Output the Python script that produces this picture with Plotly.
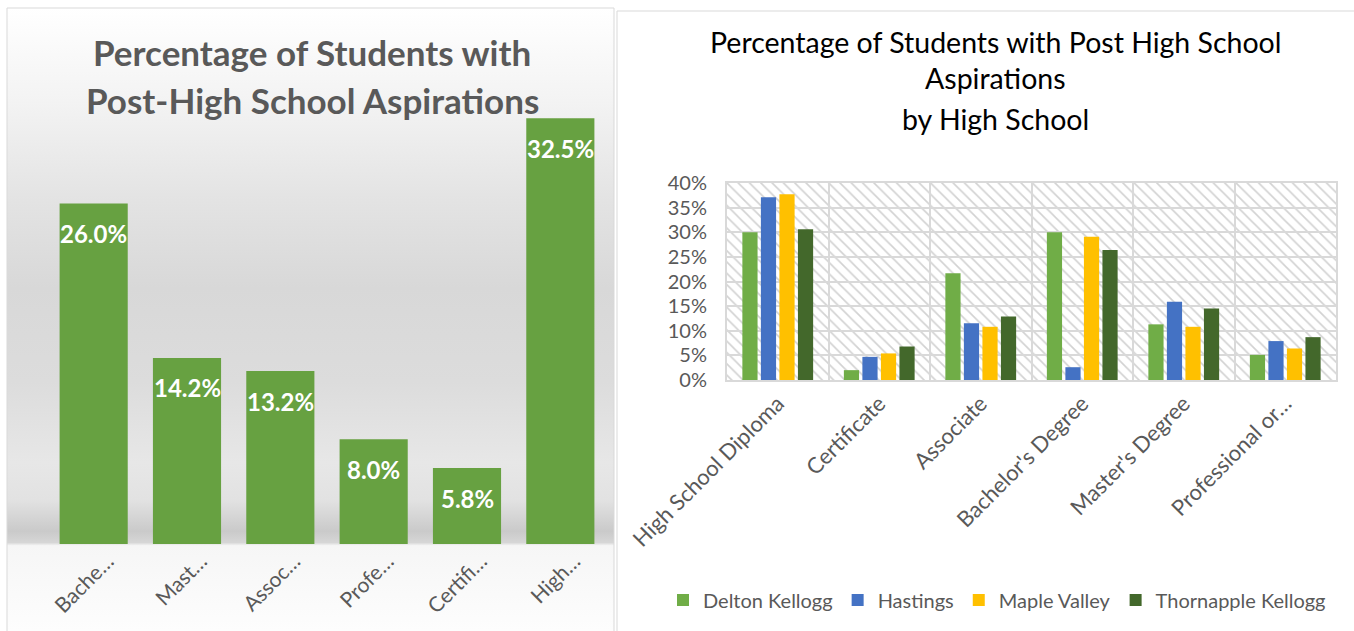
import base64
import plotly.graph_objects as go

W, H = 1354, 631

# ---------------- data ----------------
left_categories = ["Bachelor's Degree", "Master's Degree", "Associate",
                   "Professional or Doctorate", "Certificate", "High School Diploma"]
left_ticktext = ["Bache…", "Mast…", "Assoc…", "Profe…", "Certifi…", "High…"]
left_values = [0.260, 0.142, 0.132, 0.080, 0.058, 0.325]

right_categories = ["High School Diploma", "Certificate", "Associate",
                    "Bachelor's Degree", "Master's Degree", "Professional or Doctorate"]
right_ticktext = ["High School Diploma", "Certificate", "Associate",
                  "Bachelor's Degree", "Master's Degree", "Professional or…"]
schools = ["Delton Kellogg", "Hastings", "Maple Valley", "Thornapple Kellogg"]
delton_kellogg = [0.300, 0.020, 0.217, 0.300, 0.113, 0.051]
hastings = [0.371, 0.047, 0.115, 0.026, 0.159, 0.079]
maple_valley = [0.377, 0.054, 0.108, 0.291, 0.108, 0.064]
thornapple_kellogg = [0.306, 0.068, 0.129, 0.264, 0.145, 0.087]
right_series = [delton_kellogg, hastings, maple_valley, thornapple_kellogg]
right_y_max = 0.40

left_title = ["Percentage of Students with", "Post-High School Aspirations"]
right_title = ["Percentage of Students with Post High School", "Aspirations", "by High School"]

# ---------------- styles ----------------
FONT = "Lato"
GRAY = "#595959"
GRID = "#d9d9d9"
colors = ["#70AD47", "#4472C4", "#FFC000", "#43682B"]
LEFT_BAR_WIDTH = 0.73


def px_x(x):
    return x / W


def px_y(y):
    return 1 - y / H


fig = go.Figure()

# background hatch for right chart (drawn first, on its own axes)
fig.add_trace(go.Bar(
    x=right_categories, y=[right_y_max] * len(right_categories),
    width=[1] * len(right_categories),
    marker=dict(color="white", line_width=0,
                pattern=dict(shape="\\", fgcolor="#d2d2d2", bgcolor="white",
                             size=8, solidity=0.2)),
    xaxis="x2", yaxis="y2", showlegend=False, hoverinfo="skip",
))

# left chart
fig.add_trace(go.Bar(
    x=left_categories, y=left_values, width=[LEFT_BAR_WIDTH] * len(left_categories),
    marker=dict(color="#67A141", line_width=0),
    xaxis="x", yaxis="y", showlegend=False,
))
for c, v in zip(left_categories, left_values):
    fig.add_annotation(x=c, y=v, xref="x", yref="y", text=f"{v*100:.1f}%",
                       showarrow=False, yanchor="middle", yshift=-30,
                       font=dict(family=FONT, size=24, color="white", weight="bold"))

# right chart
for name, vals, col in zip(schools, right_series, colors):
    fig.add_trace(go.Bar(
        x=right_categories, y=vals, name=name,
        marker=dict(color=col, line_width=0),
        xaxis="x3", yaxis="y3",
    ))

# gradient background of left panel (svg data uri)
stops = [(0.0, "#ffffff"), (0.15, "#f3f3f3"), (0.31, "#e3e3e3"), (0.45, "#d8d8d8"),
         (0.60, "#dcdcdc"), (0.73, "#e7e7e7"), (0.79, "#e2e2e2"), (0.84, "#cacaca"),
         (0.858, "#d6d6d6"), (0.863, "#f6f6f6"), (1.0, "#fdfdfd")]
stop_xml = "".join(f'<stop offset="{o}" stop-color="{c}"/>' for o, c in stops)
svg = ('<svg xmlns="http://www.w3.org/2000/svg" width="100" height="100" '
       'preserveAspectRatio="none"><defs><linearGradient id="g" x1="0" y1="0" x2="0" y2="1">'
       f'{stop_xml}</linearGradient></defs><rect width="100" height="100" fill="url(#g)"/></svg>')
uri = "data:image/svg+xml;base64," + base64.b64encode(svg.encode()).decode()
fig.add_layout_image(dict(source=uri, xref="paper", yref="paper",
                          x=px_x(7), y=px_y(8), sizex=px_x(614) - px_x(7),
                          sizey=px_y(8) - px_y(631), xanchor="left", yanchor="top",
                          sizing="stretch", layer="below"))

# panel frames
fig.add_shape(type="rect", xref="paper", yref="paper", x0=px_x(7), x1=px_x(614),
              y0=px_y(640), y1=px_y(8), line=dict(color=GRID, width=1), layer="below")
fig.add_shape(type="rect", xref="paper", yref="paper", x0=px_x(617), x1=px_x(1370),
              y0=px_y(640), y1=px_y(11), line=dict(color=GRID, width=1), layer="below")

# titles
for t, y in zip(left_title, [52, 100]):
    fig.add_annotation(x=px_x(312), y=px_y(y), xref="paper", yref="paper", text=t,
                       showarrow=False, xanchor="center", yanchor="middle",
                       font=dict(family=FONT, size=35, color=GRAY, weight="bold"))
for t, y in zip(right_title, [42, 78, 119]):
    fig.add_annotation(x=px_x(995), y=px_y(y), xref="paper", yref="paper", text=t,
                       showarrow=False, xanchor="center", yanchor="middle",
                       font=dict(family=FONT, size=28.5, color="#000000"))

fig.update_layout(
    template="none",
    width=W, height=H, margin=dict(l=0, r=0, t=0, b=0, autoexpand=False),
    paper_bgcolor="white", plot_bgcolor="rgba(0,0,0,0)",
    barmode="group", bargap=0.27, bargroupgap=0.18,
    font=dict(family=FONT, color=GRAY),
    xaxis=dict(domain=[px_x(47), px_x(607)], type="category", automargin=False,
               tickvals=left_categories, ticktext=left_ticktext, tickangle=-45,
               tickfont=dict(size=21, color=GRAY), showline=False, showgrid=False,
               zeroline=False, ticks="", fixedrange=True, ticklabelshift=14),
    yaxis=dict(domain=[px_y(544), px_y(85.5)], range=[0, 0.35], visible=False,
               automargin=False),
    xaxis2=dict(domain=[px_x(727), px_x(1336)], type="category", visible=False,
                automargin=False, range=[-0.5, len(right_categories) - 0.5], anchor="y2"),
    yaxis2=dict(domain=[px_y(380), px_y(183)], range=[0, right_y_max], visible=False,
                automargin=False, anchor="x2"),
    xaxis3=dict(domain=[px_x(727), px_x(1336)], type="category", anchor="y3",
                automargin=False,
                tickvals=right_categories, ticktext=right_ticktext, tickangle=-45,
                tickfont=dict(size=22, color=GRAY), tickson="boundaries",
                showgrid=True, gridcolor=GRID, gridwidth=2, zeroline=False,
                showline=True, linecolor=GRID, linewidth=2, mirror=True, ticks=""),
    yaxis3=dict(domain=[px_y(380), px_y(183)], range=[0, right_y_max], anchor="x3",
                automargin=False,
                dtick=0.05, tickformat=".0%", tickfont=dict(size=20, color=GRAY),
                showgrid=True, gridcolor=GRID, gridwidth=2, zeroline=False,
                showline=True, linecolor=GRID, linewidth=2, mirror=True, ticks="",
                ticklabelstandoff=14),
    showlegend=True,
    legend=dict(orientation="h", x=px_x(997), xanchor="center", y=px_y(600),
                yanchor="middle", font=dict(size=20, color=GRAY, family=FONT),
                bgcolor="rgba(0,0,0,0)", itemwidth=30, traceorder="normal"),
)

fig.write_html("out.html", config={"displayModeBar": False},
               post_script="document.body.style.margin='0';")
